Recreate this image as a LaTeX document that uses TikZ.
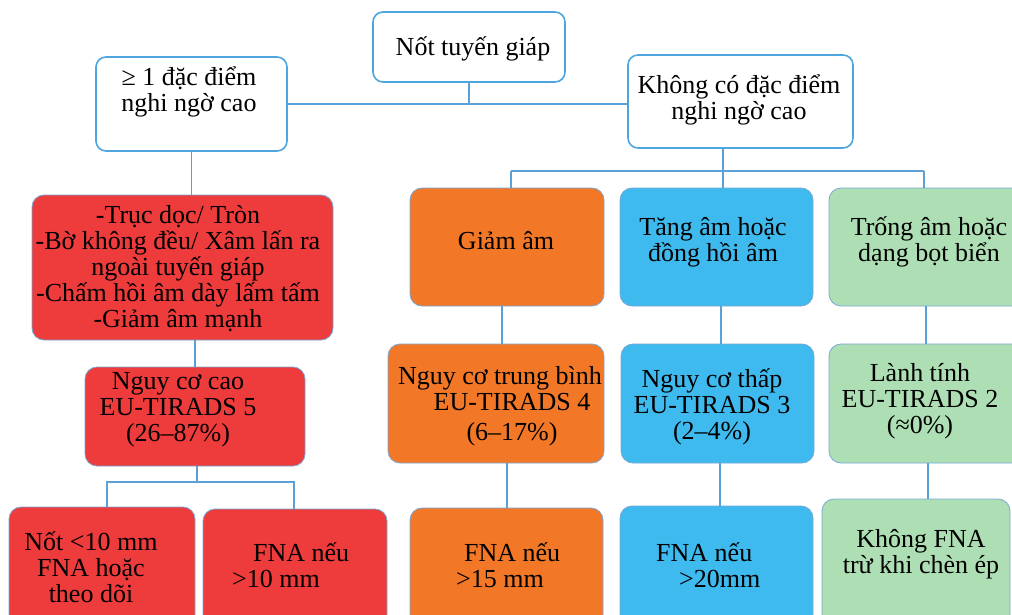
\documentclass[tikz,border=0pt]{standalone}
\usepackage{fontspec}
\setmainfont{Liberation Serif}
\definecolor{topblue}{RGB}{78,166,224}
\definecolor{edgeblue}{RGB}{120,168,214}
\definecolor{lineblue}{RGB}{91,160,215}
\definecolor{boxred}{RGB}{238,59,59}
\definecolor{boxorange}{RGB}{242,120,40}
\definecolor{boxblue}{RGB}{62,186,238}
\definecolor{boxgreen}{RGB}{174,223,180}
\begin{document}
\begin{tikzpicture}[x=1pt,y=-1pt,
  wbox/.style={draw=topblue, line width=1.6pt, rounded corners=10pt, fill=white, inner sep=0pt},
  cbox/.style={draw=edgeblue, line width=0.8pt, rounded corners=12pt, inner sep=0pt},
  txt/.style={font=\fontsize{26}{26}\selectfont, align=center, inner sep=0pt, text=black},
  ltxt/.style={font=\fontsize{26}{26}\selectfont, align=left, inner sep=0pt, text=black, anchor=west},
  conn/.style={draw=lineblue, line width=1.2pt},
  thick conn/.style={draw=lineblue, line width=2pt}]
\useasboundingbox (0,0) rectangle (1012,615);
\clip (0,0) rectangle (1012,615);
\fill[white] (0,0) rectangle (1012,615);

% helper coordinates
\coordinate (j1) at (469,104);
\coordinate (j2) at (723,171);
\coordinate (h1) at (511,171);
\coordinate (h3) at (924,171);
\coordinate (g1) at (502,0);
\coordinate (g2) at (721,0);
\coordinate (g3) at (926,0);
\coordinate (k1) at (507,0);
\coordinate (k2) at (720,0);
\coordinate (k3) at (928,0);
\coordinate (r0) at (197,482);
\coordinate (r1) at (107,482);
\coordinate (r2) at (294,482);

% boxes
\node[wbox, minimum width=192pt, minimum height=70pt] (root) at (469,47) {};
\node[wbox, minimum width=191pt, minimum height=94pt] (lefthi) at (191.5,104) {};
\node[wbox, minimum width=225pt, minimum height=93pt] (righthi) at (740.5,101.5) {};

\node[cbox, fill=boxred, minimum width=301pt, minimum height=145pt] (feat) at (182.5,267.5) {};
\node[cbox, fill=boxorange, minimum width=194pt, minimum height=118pt] (hypo) at (507,247) {};
\node[cbox, fill=boxblue, minimum width=193pt, minimum height=118pt] (hyper) at (716.5,247) {};
\node[cbox, fill=boxgreen, minimum width=201pt, minimum height=118pt] (anech) at (929.5,247) {};

\node[cbox, fill=boxred, minimum width=220pt, minimum height=99pt] (eu5) at (195,416.5) {};
\node[cbox, fill=boxorange, minimum width=216pt, minimum height=119pt] (eu4) at (496,403.5) {};
\node[cbox, fill=boxblue, minimum width=193pt, minimum height=119pt] (eu3) at (717.5,403.5) {};
\node[cbox, fill=boxgreen, minimum width=201pt, minimum height=119pt] (eu2) at (929.5,403.5) {};

\node[cbox, fill=boxred, minimum width=186pt, minimum height=133pt] (fna5a) at (102,573.5) {};
\node[cbox, fill=boxred, minimum width=184pt, minimum height=131pt] (fna5b) at (295,574.5) {};
\node[cbox, fill=boxorange, minimum width=193pt, minimum height=132pt] (fna4) at (506.5,574) {};
\node[cbox, fill=boxblue, minimum width=193pt, minimum height=134pt] (fna3) at (716.5,573) {};
\node[cbox, fill=boxgreen, minimum width=188pt, minimum height=141pt] (fna2) at (916,569.5) {};

% connectors
\draw[conn] (root.south) -- (j1);
\draw[thick conn] (lefthi.east |- j1) -- (j1) -- (j1 -| righthi.west);
\draw[conn] (lefthi.south) -- (lefthi.south |- feat.north);
\draw[conn] (j2 |- righthi.south) -- (j2);
\draw[conn] (h1) -- (h3);
\draw[conn] (h1) -- (h1 |- hypo.north);
\draw[conn] (j2) -- (j2 |- hyper.north);
\draw[conn] (h3) -- (h3 |- anech.north);

\draw[conn] (eu5.north |- feat.south) -- (eu5.north);
\draw[conn] (hypo.south -| g1) -- (eu4.north -| g1);
\draw[conn] (hyper.south -| g2) -- (eu3.north -| g2);
\draw[conn] (anech.south -| g3) -- (eu2.north -| g3);

\draw[thick conn] (r0 |- eu5.south) -- (r0);
\draw[thick conn] (r1 |- fna5a.north) -- (r1) -- (r2) -- (r2 |- fna5b.north);
\draw[conn] (eu4.south -| k1) -- (fna4.north -| k1);
\draw[conn] (eu3.south -| k2) -- (fna3.north -| k2);
\draw[conn] (eu2.south -| k3) -- (fna2.north -| k3);

% texts
\node[txt] (troot) at (473,49) {Nốt tuyến giáp};
\node[txt] (tlefthi) at (189,92) {≥ 1 đặc điểm\\nghi ngờ cao};
\node[txt] (trighthi) at (739,100) {Không có đặc điểm\\nghi ngờ cao};
\node[txt] (tfeat) at (178,269) {-Trục dọc/ Tròn\\-Bờ không đều/ Xâm lấn ra\\ngoài tuyến giáp\\-Chấm hồi âm dày lấm tấm\\-Giảm âm mạnh};
\node[txt] (thypo) at (506,241) {Giảm âm};
\node[txt] (thyper) at (713,242) {Tăng âm hoặc\\đồng hồi âm};
\node[txt] (tanech) at (929,242) {Trống âm hoặc\\dạng bọt biển};

\node[txt] (teu5) at (178,410) {Nguy cơ cao\\EU-TIRADS 5\\(26–87\%)};
\node[txt] (teu4) at (500,406) {Nguy cơ trung bình\\\hspace*{24pt}EU-TIRADS 4\\[4pt]\hspace*{24pt}(6–17\%)};
\node[txt] (teu3) at (712,407) {Nguy cơ thấp\\EU-TIRADS 3\\(2–4\%)};
\node[txt] (teu2) at (920,401) {Lành tính\\EU-TIRADS 2\\(≈0\%)};

\node[txt] (tfna5a) at (91,567) {Nốt <10 mm\\FNA hoặc\\theo dõi};
\node[ltxt] (tfna5b) at (232,565) {\hspace*{21pt}FNA nếu\\>10 mm};
\node[ltxt] (tfna4) at (456,565) {\hspace*{8pt}FNA nếu\\>15 mm};
\node[ltxt] (tfna3) at (656,565) {FNA nếu\\\hspace*{23pt}>20mm};
\node[txt] (tfna2) at (921,554) {Không FNA\\trừ khi chèn ép};
\end{tikzpicture}
\end{document}
